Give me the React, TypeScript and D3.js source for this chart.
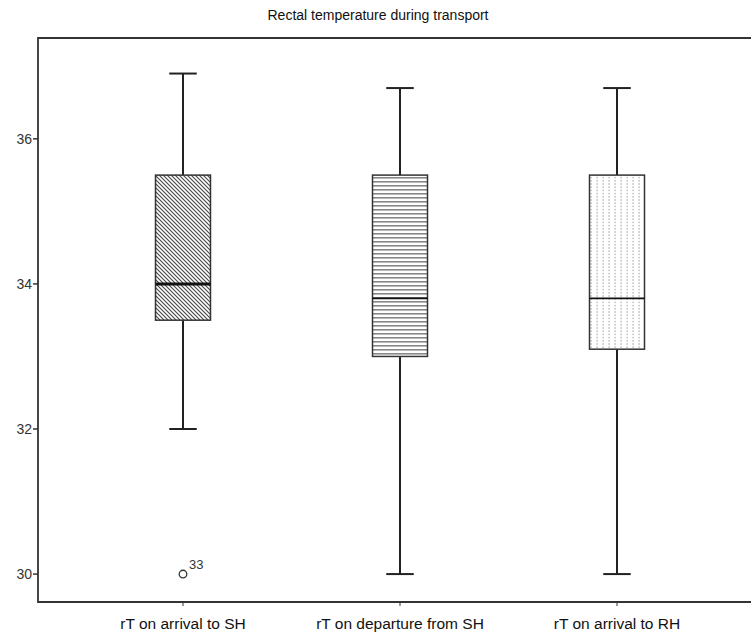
import * as d3 from 'd3'
import { useRef, useEffect } from 'react'

const categories = ['rT on arrival to SH', 'rT on departure from SH', 'rT on arrival to RH']
const whiskerLow = [32.0, 30.0, 30.0]
const q1 = [33.5, 33.0, 33.1]
const medians = [34.0, 33.8, 33.8]
const q3 = [35.5, 35.5, 35.5]
const whiskerHigh = [36.9, 36.7, 36.7]
const outliers = [{ cat: 0, value: 30.0, label: '33' }]
const yTicks = [30, 32, 34, 36]
const patterns = ['diag', 'horiz', 'dots']

const W = 751
const H = 634
const frame = { left: 38, top: 38, bottom: 602 }
const font = '"Liberation Sans", Arial, sans-serif'

const App = () => {
    const svgRef = useRef<SVGSVGElement | null>(null)

    useEffect(() => {
        const svg = d3.select(svgRef.current)
        svg.selectAll('*').remove()

        const y = d3.scaleLinear().domain([29.615, 37.39]).range([frame.bottom, frame.top])
        const x = d3.scalePoint<string>().domain(categories).range([183, 617])
        const boxW = 55

        // hatch patterns
        const defs = svg.append('defs')
        const pDiag = defs.append('pattern').attr('id', 'diag').attr('patternUnits', 'userSpaceOnUse')
            .attr('width', 4).attr('height', 4)
        pDiag.append('rect').attr('width', 4).attr('height', 4).attr('fill', 'white')
        pDiag.append('path').attr('d', 'M-1,-1 L5,5 M-1,3 L1,5 M3,-1 L5,1')
            .attr('stroke', '#444').attr('stroke-width', 1.1)

        const pH = defs.append('pattern').attr('id', 'horiz').attr('patternUnits', 'userSpaceOnUse')
            .attr('width', 4).attr('height', 4)
        pH.append('rect').attr('width', 4).attr('height', 4).attr('fill', 'white')
        pH.append('rect').attr('y', 1).attr('width', 4).attr('height', 1.6).attr('fill', '#888')

        const pD = defs.append('pattern').attr('id', 'dots').attr('patternUnits', 'userSpaceOnUse')
            .attr('width', 6).attr('height', 3.2)
        pD.append('rect').attr('width', 6).attr('height', 3.2).attr('fill', 'white')
        pD.append('rect').attr('x', 2.5).attr('y', 1).attr('width', 1.2).attr('height', 1.2).attr('fill', '#999')

        // title
        svg.append('text').attr('x', 378).attr('y', 20).attr('text-anchor', 'middle')
            .attr('font-family', font).attr('font-size', 14).attr('fill', '#111')
            .text('Rectal temperature during transport')

        // frame
        svg.append('path')
            .attr('d', `M${W + 2},${frame.top} H${frame.left} V${frame.bottom} H${W + 2}`)
            .attr('fill', 'none').attr('stroke', '#333').attr('stroke-width', 1.8)

        // y axis ticks
        const gy = svg.append('g')
        gy.selectAll('line').data(yTicks).enter().append('line')
            .attr('x1', frame.left - 5).attr('x2', frame.left)
            .attr('y1', d => y(d)).attr('y2', d => y(d))
            .attr('stroke', '#333').attr('stroke-width', 1.5)
        gy.selectAll('text').data(yTicks).enter().append('text')
            .attr('x', frame.left - 6).attr('y', d => y(d)).attr('dy', '0.36em')
            .attr('text-anchor', 'end').attr('font-family', font).attr('font-size', 14)
            .attr('fill', '#333').text(d => d)

        // x axis ticks and labels
        const gx = svg.append('g')
        gx.selectAll('line').data(categories).enter().append('line')
            .attr('x1', d => x(d)!).attr('x2', d => x(d)!)
            .attr('y1', frame.bottom).attr('y2', frame.bottom + 4)
            .attr('stroke', '#333').attr('stroke-width', 1)
        gx.selectAll('text').data(categories).enter().append('text')
            .attr('x', d => x(d)!).attr('y', 629).attr('text-anchor', 'middle')
            .attr('font-family', font).attr('font-size', 15.5).attr('fill', '#111')
            .text(d => d)

        // boxes
        const boxes = svg.append('g').selectAll('g').data(categories).enter().append('g')
        boxes.append('line')
            .attr('x1', d => x(d)!).attr('x2', d => x(d)!)
            .attr('y1', (_, i) => y(whiskerHigh[i])).attr('y2', (_, i) => y(q3[i]))
            .attr('stroke', '#222').attr('stroke-width', 2)
        boxes.append('line')
            .attr('x1', d => x(d)!).attr('x2', d => x(d)!)
            .attr('y1', (_, i) => y(q1[i])).attr('y2', (_, i) => y(whiskerLow[i]))
            .attr('stroke', '#222').attr('stroke-width', 2)
        boxes.append('line')
            .attr('x1', d => x(d)! - boxW / 4).attr('x2', d => x(d)! + boxW / 4)
            .attr('y1', (_, i) => y(whiskerHigh[i])).attr('y2', (_, i) => y(whiskerHigh[i]))
            .attr('stroke', '#222').attr('stroke-width', 2)
        boxes.append('line')
            .attr('x1', d => x(d)! - boxW / 4).attr('x2', d => x(d)! + boxW / 4)
            .attr('y1', (_, i) => y(whiskerLow[i])).attr('y2', (_, i) => y(whiskerLow[i]))
            .attr('stroke', '#222').attr('stroke-width', 2)
        boxes.append('rect')
            .attr('x', d => x(d)! - boxW / 2).attr('width', boxW)
            .attr('y', (_, i) => y(q3[i])).attr('height', (_, i) => y(q1[i]) - y(q3[i]))
            .attr('fill', (_, i) => `url(#${patterns[i]})`)
            .attr('stroke', '#333').attr('stroke-width', 1.5)
        boxes.append('line')
            .attr('x1', d => x(d)! - boxW / 2).attr('x2', d => x(d)! + boxW / 2)
            .attr('y1', (_, i) => y(medians[i])).attr('y2', (_, i) => y(medians[i]))
            .attr('stroke', '#111').attr('stroke-width', (_, i) => i === 0 ? 3 : 1.6)

        // outliers
        const go = svg.append('g')
        go.selectAll('circle').data(outliers).enter().append('circle')
            .attr('cx', d => x(categories[d.cat])!).attr('cy', d => y(d.value)).attr('r', 3.8)
            .attr('fill', 'white').attr('stroke', '#333').attr('stroke-width', 1.3)
        go.selectAll('text').data(outliers).enter().append('text')
            .attr('x', d => x(categories[d.cat])! + 6).attr('y', d => y(d.value) - 5)
            .attr('font-family', font).attr('font-size', 13).attr('fill', '#333')
            .text(d => d.label)
    }, [])

    return (
        <svg
            ref={svgRef}
            width={W}
            height={H}
            style={{ position: 'absolute', left: 0, top: 0, background: 'white' }}
        />
    )
}

export default App
